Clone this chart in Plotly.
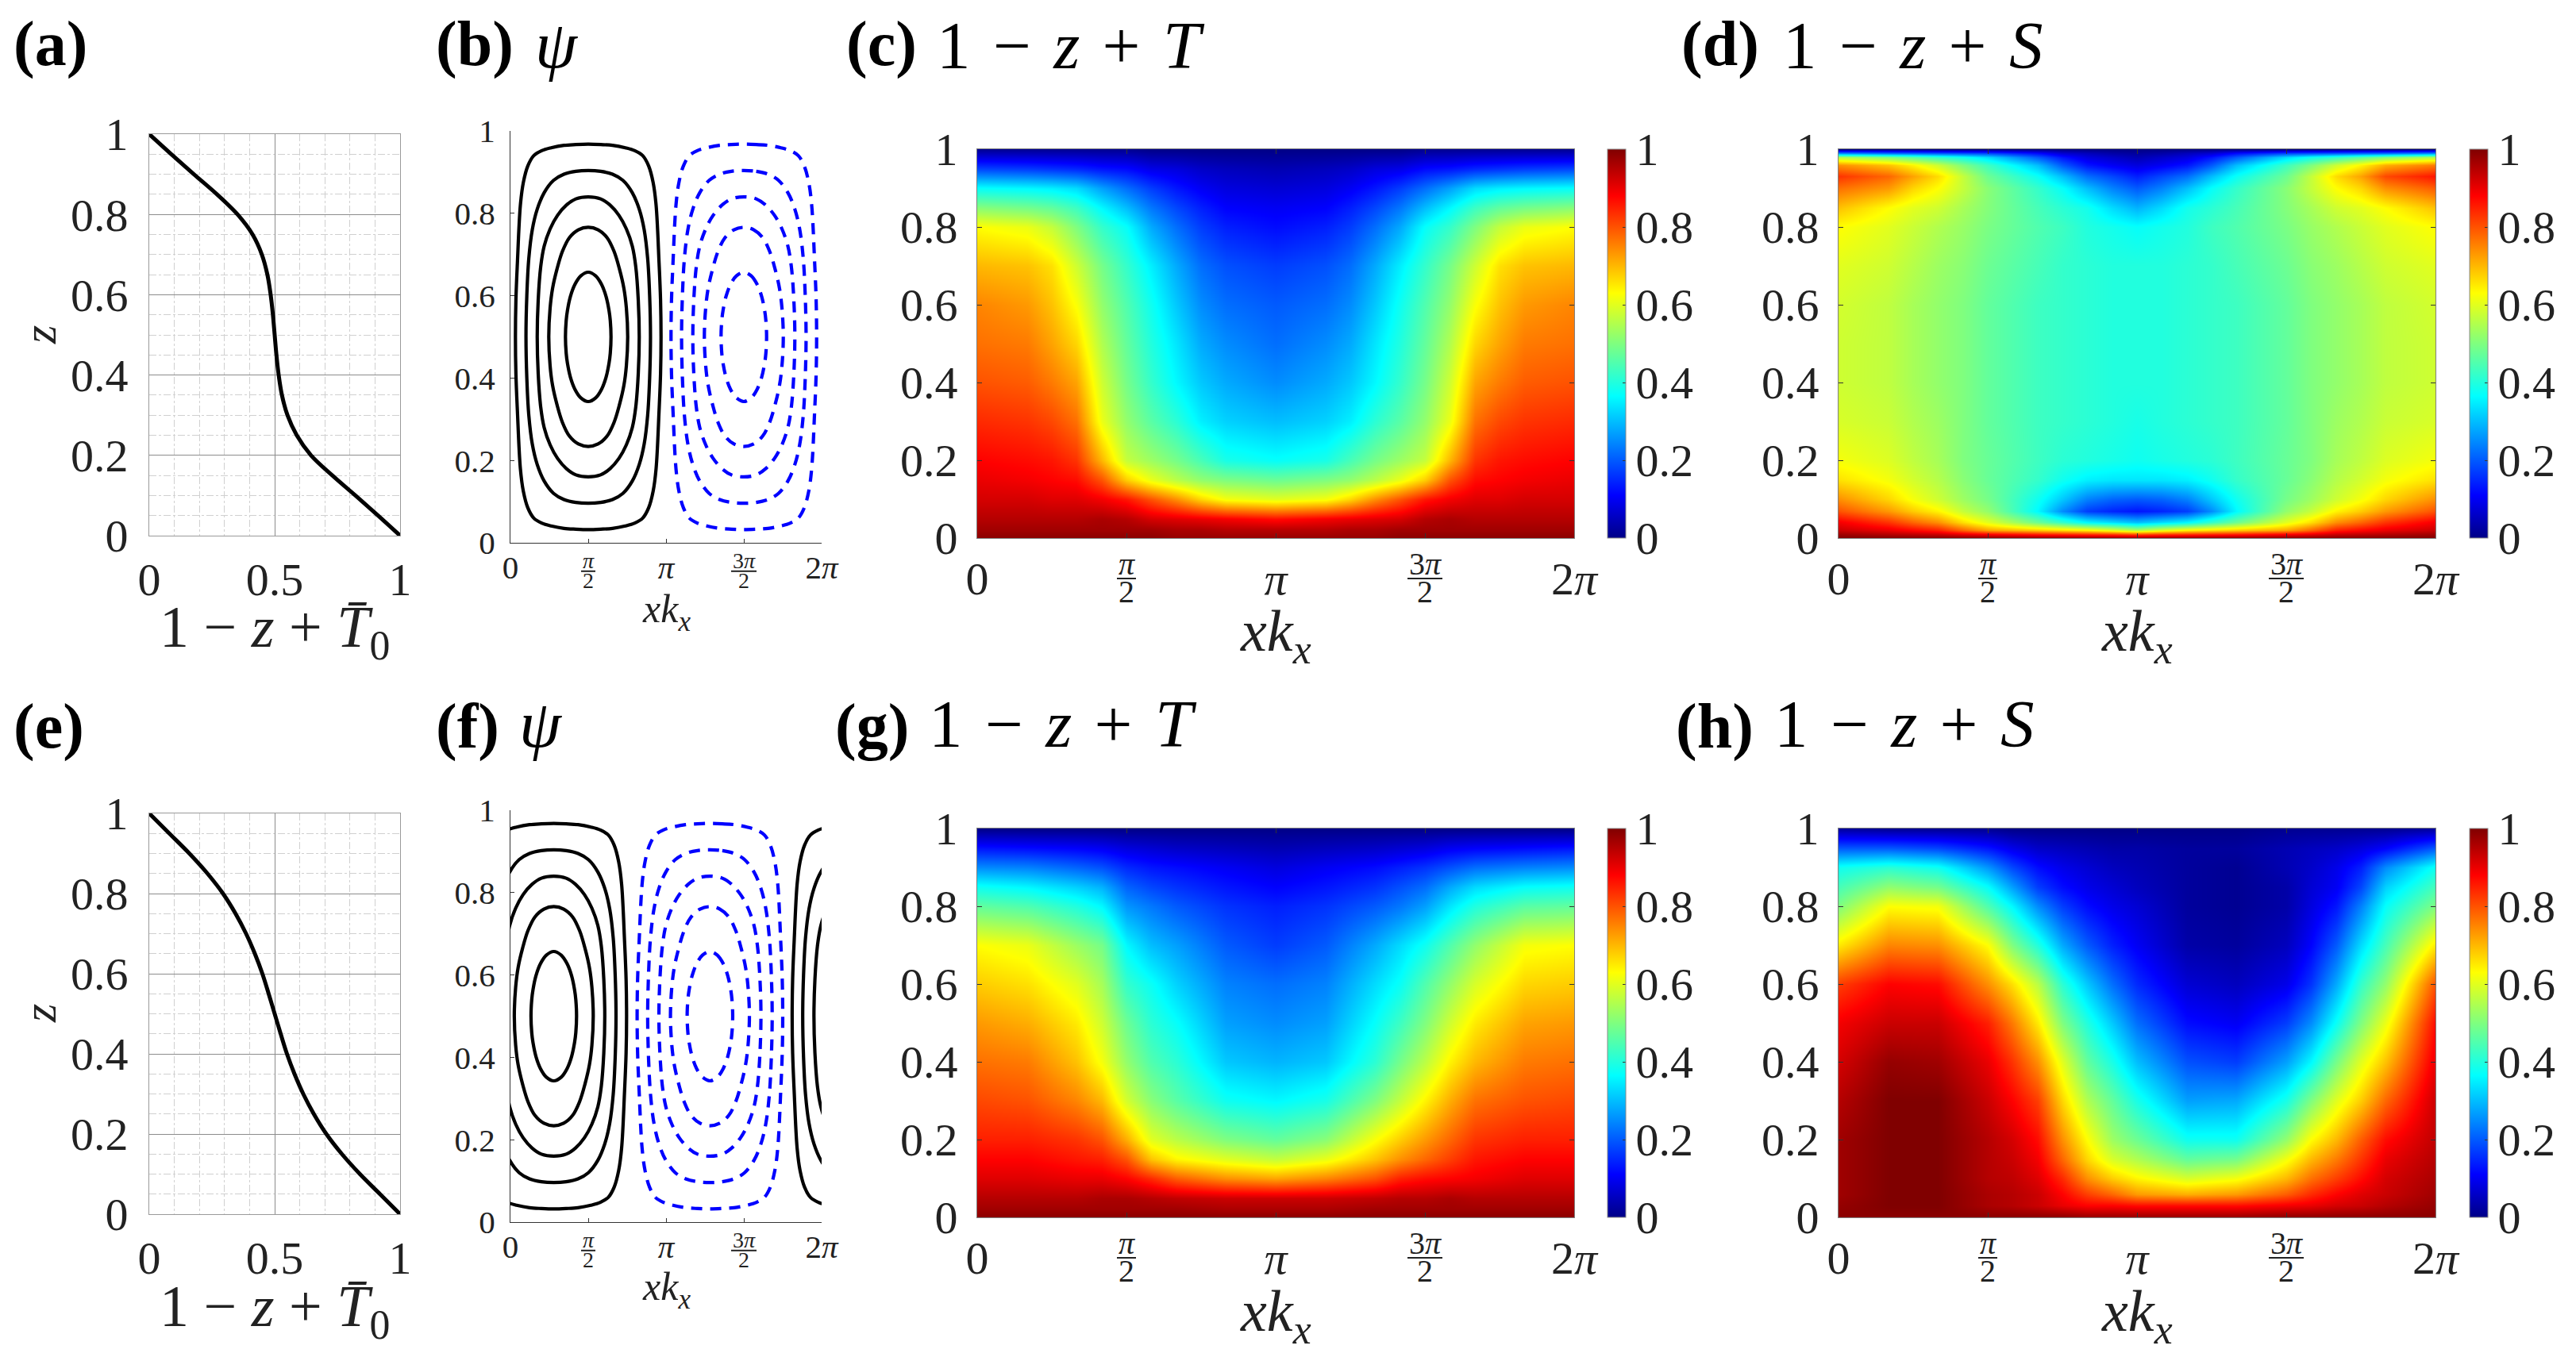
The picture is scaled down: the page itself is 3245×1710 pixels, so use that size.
import numpy as np
import plotly.graph_objects as go

W, H = 3245, 1710
SERIF = "Liberation Serif"
PI = np.pi

# mean profiles, panels (a) and (e)
z_profile = [1, 0.95, 0.9, 0.85, 0.8, 0.75, 0.7, 0.65, 0.6, 0.55, 0.5, 0.45, 0.4, 0.35, 0.3, 0.25, 0.2, 0.15, 0.1, 0.05, 0]
T0_a = [0, 0.088, 0.178, 0.27, 0.352, 0.412, 0.449, 0.471, 0.484, 0.493, 0.5, 0.507, 0.516, 0.529, 0.551, 0.588, 0.645, 0.73, 0.822, 0.912, 1]
T0_e = [0, 0.08, 0.16, 0.232, 0.294, 0.344, 0.386, 0.421, 0.451, 0.476, 0.5, 0.524, 0.549, 0.579, 0.614, 0.656, 0.706, 0.768, 0.84, 0.92, 1]

# psi contours: quarter of each closed line, offsets from the cell centre (x, z)
psi_dx = [
    [0, 0.15, 0.27, 0.36, 0.42, 0.445, 0.46],
    [0, 0.2, 0.38, 0.52, 0.63, 0.72, 0.77, 0.797],
    [0, 0.25, 0.44, 0.62, 0.77, 0.89, 0.96, 1.01, 1.03],
    [0, 0.25, 0.49, 0.7, 0.89, 1.03, 1.13, 1.2, 1.24, 1.257],
    [0, 0.25, 0.49, 0.75, 0.94, 1.1, 1.22, 1.31, 1.37, 1.43, 1.46, 1.47],
]
psi_dz = [
    [0.157, 0.148, 0.127, 0.098, 0.064, 0.04, 0],
    [0.266, 0.26, 0.241, 0.208, 0.165, 0.118, 0.07, 0],
    [0.34, 0.335, 0.32, 0.295, 0.262, 0.22, 0.17, 0.09, 0],
    [0.404, 0.402, 0.395, 0.38, 0.35, 0.31, 0.26, 0.19, 0.1, 0],
    [0.468, 0.467, 0.465, 0.459, 0.452, 0.44, 0.415, 0.375, 0.32, 0.18, 0.09, 0],
]
psi_centres_b = {"black": [PI / 2], "blue": [3 * PI / 2]}
psi_centres_f = {"black": [0.875, 0.875 + 2 * PI], "blue": [4.028]}


# heatmap grids, one list per column; columns sit at x = k * 2pi / 12
def col_x(ks):
    return [k * 2 * PI / 12 for k in ks]


k_c = [0, 1, 1.5, 2, 2.5, 3, 3.5, 4, 4.5, 5, 6, 7, 7.5, 8, 8.5, 9, 9.5, 10, 10.5, 11, 12]
k_d = [0, 1, 1.5, 2, 2.5, 3, 4, 4.5, 5, 5.5, 6, 6.5, 7, 7.5, 8, 9, 9.5, 10, 10.5, 11, 12]
k_g = [0, 1, 2, 2.5, 3, 3.5, 4, 5, 6, 7, 8, 8.5, 9, 9.5, 10, 11, 12]
k_h = [0, 1, 2, 3, 3.5, 4, 4.5, 5, 5.5, 6, 7, 8, 9, 9.5, 10, 10.5, 11, 12]

z_T = [0, 0.02, 0.05, 0.1, 0.15, 0.2, 0.3, 0.4, 0.5, 0.6, 0.7, 0.8, 0.85, 0.9, 0.95, 1]
T_c_half = [
    [0.99, 0.97, 0.95, 0.92, 0.90, 0.88, 0.84, 0.80, 0.77, 0.75, 0.70, 0.63, 0.51, 0.37, 0.18, 0.01],
    [0.99, 0.97, 0.95, 0.92, 0.89, 0.87, 0.83, 0.79, 0.76, 0.73, 0.69, 0.61, 0.49, 0.36, 0.17, 0.01],
    [0.99, 0.97, 0.95, 0.91, 0.88, 0.86, 0.81, 0.76, 0.72, 0.69, 0.66, 0.57, 0.47, 0.35, 0.16, 0.01],
    [0.99, 0.97, 0.95, 0.91, 0.87, 0.83, 0.77, 0.72, 0.67, 0.625, 0.58, 0.50, 0.43, 0.33, 0.15, 0.01],
    [0.99, 0.97, 0.96, 0.89, 0.80, 0.70, 0.61, 0.58, 0.55, 0.52, 0.49, 0.42, 0.36, 0.27, 0.13, 0.01],
    [0.99, 0.97, 0.95, 0.86, 0.68, 0.57, 0.52, 0.49, 0.47, 0.45, 0.42, 0.37, 0.30, 0.22, 0.12, 0.01],
    [0.99, 0.97, 0.92, 0.80, 0.61, 0.53, 0.46, 0.42, 0.40, 0.38, 0.35, 0.28, 0.23, 0.17, 0.09, 0.0],
    [0.98, 0.96, 0.91, 0.74, 0.56, 0.49, 0.41, 0.36, 0.34, 0.31, 0.28, 0.22, 0.18, 0.13, 0.08, 0.0],
    [0.98, 0.96, 0.90, 0.67, 0.52, 0.44, 0.35, 0.31, 0.28, 0.25, 0.22, 0.17, 0.14, 0.10, 0.06, 0.0],
    [0.98, 0.95, 0.89, 0.62, 0.50, 0.39, 0.32, 0.28, 0.25, 0.22, 0.19, 0.14, 0.11, 0.08, 0.05, 0.0],
    [0.98, 0.95, 0.87, 0.60, 0.48, 0.37, 0.30, 0.25, 0.22, 0.20, 0.17, 0.12, 0.10, 0.07, 0.04, 0.0],
]
T_c = T_c_half + T_c_half[-2::-1]

T_g = [
    [0.99, 0.97, 0.95, 0.91, 0.88, 0.85, 0.81, 0.77, 0.73, 0.68, 0.63, 0.47, 0.38, 0.25, 0.13, 0],
    [0.99, 0.97, 0.95, 0.91, 0.88, 0.85, 0.80, 0.76, 0.71, 0.66, 0.61, 0.45, 0.36, 0.24, 0.12, 0],
    [0.99, 0.97, 0.95, 0.90, 0.86, 0.83, 0.75, 0.69, 0.65, 0.60, 0.53, 0.40, 0.32, 0.21, 0.11, 0],
    [0.99, 0.97, 0.96, 0.90, 0.85, 0.80, 0.70, 0.62, 0.58, 0.54, 0.49, 0.36, 0.29, 0.19, 0.10, 0],
    [0.99, 0.97, 0.96, 0.88, 0.80, 0.71, 0.585, 0.52, 0.48, 0.42, 0.36, 0.26, 0.21, 0.15, 0.08, 0],
    [0.99, 0.97, 0.95, 0.84, 0.69, 0.60, 0.51, 0.45, 0.41, 0.375, 0.30, 0.23, 0.18, 0.13, 0.07, 0],
    [0.99, 0.97, 0.94, 0.79, 0.64, 0.56, 0.46, 0.41, 0.37, 0.32, 0.27, 0.20, 0.16, 0.12, 0.06, 0],
    [0.99, 0.96, 0.93, 0.74, 0.60, 0.50, 0.38, 0.31, 0.27, 0.24, 0.20, 0.16, 0.13, 0.10, 0.05, 0],
    [0.99, 0.96, 0.93, 0.72, 0.57, 0.47, 0.36, 0.29, 0.25, 0.22, 0.17, 0.14, 0.11, 0.08, 0.04, 0],
    [0.99, 0.96, 0.93, 0.75, 0.61, 0.51, 0.39, 0.31, 0.27, 0.24, 0.20, 0.16, 0.13, 0.10, 0.05, 0],
    [0.99, 0.97, 0.94, 0.80, 0.69, 0.625, 0.50, 0.41, 0.37, 0.33, 0.28, 0.20, 0.16, 0.12, 0.06, 0],
    [0.99, 0.97, 0.95, 0.85, 0.74, 0.68, 0.57, 0.49, 0.43, 0.375, 0.33, 0.23, 0.19, 0.14, 0.07, 0],
    [0.99, 0.97, 0.95, 0.87, 0.78, 0.73, 0.64, 0.56, 0.50, 0.45, 0.38, 0.27, 0.22, 0.16, 0.08, 0],
    [0.99, 0.97, 0.96, 0.88, 0.82, 0.78, 0.71, 0.64, 0.58, 0.52, 0.45, 0.34, 0.28, 0.19, 0.10, 0],
    [0.99, 0.97, 0.95, 0.89, 0.86, 0.83, 0.77, 0.70, 0.65, 0.59, 0.52, 0.40, 0.33, 0.22, 0.11, 0],
    [0.99, 0.97, 0.95, 0.91, 0.88, 0.85, 0.80, 0.76, 0.72, 0.67, 0.62, 0.46, 0.37, 0.24, 0.12, 0],
    [0.99, 0.97, 0.95, 0.91, 0.88, 0.85, 0.81, 0.77, 0.73, 0.68, 0.63, 0.47, 0.38, 0.25, 0.13, 0],
]

z_S_d = [0, 0.01, 0.02, 0.04, 0.07, 0.1, 0.15, 0.2, 0.3, 0.4, 0.5, 0.6, 0.7, 0.8, 0.85, 0.9, 0.93, 0.96, 0.98, 0.99, 1]
S_d_half = [
    [1.0, 0.97, 0.93, 0.89, 0.80, 0.74, 0.66, 0.62, 0.59, 0.58, 0.58, 0.585, 0.60, 0.63, 0.69, 0.77, 0.83, 0.74, 0.55, 0.25, 0],
    [1.0, 0.95, 0.90, 0.83, 0.73, 0.67, 0.62, 0.595, 0.575, 0.565, 0.565, 0.565, 0.58, 0.60, 0.63, 0.73, 0.78, 0.69, 0.50, 0.22, 0],
    [1.0, 0.94, 0.875, 0.78, 0.68, 0.62, 0.585, 0.565, 0.55, 0.54, 0.54, 0.54, 0.555, 0.575, 0.60, 0.67, 0.72, 0.64, 0.46, 0.21, 0],
    [1.0, 0.93, 0.85, 0.74, 0.64, 0.58, 0.555, 0.54, 0.53, 0.52, 0.52, 0.52, 0.53, 0.55, 0.58, 0.63, 0.665, 0.58, 0.42, 0.20, 0],
    [1.0, 0.90, 0.78, 0.66, 0.57, 0.53, 0.51, 0.50, 0.50, 0.50, 0.50, 0.50, 0.51, 0.525, 0.54, 0.57, 0.57, 0.50, 0.38, 0.19, 0],
    [1.0, 0.88, 0.72, 0.60, 0.52, 0.49, 0.475, 0.475, 0.47, 0.47, 0.47, 0.47, 0.48, 0.495, 0.505, 0.51, 0.48, 0.43, 0.33, 0.18, 0],
    [1.0, 0.85, 0.68, 0.48, 0.36, 0.38, 0.42, 0.43, 0.43, 0.43, 0.43, 0.43, 0.44, 0.45, 0.44, 0.42, 0.375, 0.30, 0.20, 0.12, 0],
    [1.0, 0.84, 0.66, 0.42, 0.25, 0.31, 0.38, 0.41, 0.42, 0.42, 0.42, 0.42, 0.42, 0.43, 0.41, 0.37, 0.30, 0.20, 0.13, 0.07, 0],
    [1.0, 0.83, 0.64, 0.36, 0.17, 0.24, 0.35, 0.40, 0.41, 0.41, 0.41, 0.41, 0.41, 0.40, 0.385, 0.30, 0.22, 0.13, 0.08, 0.05, 0],
    [1.0, 0.82, 0.60, 0.33, 0.145, 0.21, 0.34, 0.39, 0.40, 0.40, 0.40, 0.40, 0.40, 0.385, 0.33, 0.24, 0.18, 0.10, 0.06, 0.03, 0],
    [1.0, 0.80, 0.55, 0.30, 0.13, 0.20, 0.34, 0.38, 0.39, 0.40, 0.40, 0.40, 0.40, 0.37, 0.29, 0.20, 0.14, 0.08, 0.04, 0.02, 0],
]
# the right-hand lobe at the top runs a little hotter than the left one
S_d_right = [
    [1.0, 0.95, 0.90, 0.83, 0.73, 0.67, 0.62, 0.595, 0.575, 0.565, 0.565, 0.565, 0.58, 0.60, 0.63, 0.74, 0.81, 0.71, 0.50, 0.22, 0],
    [1.0, 0.97, 0.93, 0.89, 0.80, 0.74, 0.66, 0.62, 0.59, 0.58, 0.58, 0.585, 0.60, 0.63, 0.69, 0.79, 0.86, 0.76, 0.55, 0.25, 0],
]
S_d = S_d_half + S_d_half[-2:1:-1] + S_d_right

z_S_h = [0, 0.03, 0.06, 0.1, 0.15, 0.2, 0.3, 0.4, 0.5, 0.6, 0.7, 0.8, 0.85, 0.9, 0.95, 1]
S_h = [
    [0.99, 0.98, 0.97, 0.97, 0.97, 0.97, 0.95, 0.92, 0.89, 0.82, 0.65, 0.50, 0.44, 0.38, 0.20, 0.02],
    [0.99, 1.0, 1.0, 1.0, 1.0, 1.0, 1.0, 0.98, 0.93, 0.88, 0.75, 0.63, 0.52, 0.41, 0.20, 0.01],
    [0.99, 1.0, 1.0, 1.0, 1.0, 1.0, 1.0, 0.97, 0.93, 0.87, 0.74, 0.62, 0.49, 0.38, 0.18, 0.01],
    [0.99, 0.96, 0.96, 0.95, 0.95, 0.95, 0.93, 0.90, 0.85, 0.74, 0.63, 0.45, 0.37, 0.26, 0.13, 0.01],
    [0.99, 0.95, 0.95, 0.94, 0.93, 0.92, 0.88, 0.83, 0.76, 0.66, 0.50, 0.36, 0.27, 0.18, 0.09, 0],
    [0.99, 0.93, 0.93, 0.91, 0.89, 0.87, 0.82, 0.74, 0.65, 0.56, 0.40, 0.25, 0.17, 0.12, 0.06, 0],
    [0.99, 0.90, 0.88, 0.84, 0.78, 0.74, 0.67, 0.60, 0.50, 0.41, 0.28, 0.17, 0.12, 0.09, 0.05, 0],
    [0.98, 0.88, 0.82, 0.74, 0.67, 0.63, 0.55, 0.47, 0.40, 0.31, 0.20, 0.12, 0.09, 0.07, 0.04, 0],
    [0.98, 0.88, 0.78, 0.68, 0.59, 0.53, 0.47, 0.39, 0.31, 0.22, 0.14, 0.09, 0.07, 0.05, 0.03, 0],
    [0.98, 0.87, 0.73, 0.64, 0.55, 0.48, 0.39, 0.30, 0.22, 0.15, 0.10, 0.07, 0.05, 0.04, 0.03, 0],
    [0.98, 0.87, 0.71, 0.59, 0.47, 0.38, 0.27, 0.19, 0.12, 0.07, 0.03, 0.02, 0.02, 0.02, 0.02, 0],
    [0.98, 0.87, 0.73, 0.62, 0.49, 0.38, 0.28, 0.17, 0.10, 0.05, 0.02, 0.01, 0.01, 0.01, 0.02, 0],
    [0.99, 0.89, 0.79, 0.70, 0.62, 0.52, 0.39, 0.27, 0.17, 0.09, 0.05, 0.03, 0.03, 0.04, 0.04, 0.01],
    [0.99, 0.90, 0.84, 0.77, 0.70, 0.63, 0.50, 0.36, 0.25, 0.16, 0.11, 0.08, 0.07, 0.06, 0.05, 0.01],
    [0.99, 0.92, 0.88, 0.82, 0.76, 0.70, 0.60, 0.49, 0.375, 0.28, 0.20, 0.13, 0.10, 0.09, 0.06, 0.01],
    [0.99, 0.93, 0.91, 0.87, 0.83, 0.79, 0.68, 0.60, 0.50, 0.42, 0.33, 0.24, 0.18, 0.14, 0.08, 0.01],
    [0.99, 0.95, 0.93, 0.92, 0.90, 0.87, 0.78, 0.69, 0.61, 0.52, 0.44, 0.37, 0.32, 0.25, 0.11, 0.01],
    [0.99, 0.98, 0.97, 0.96, 0.95, 0.94, 0.93, 0.90, 0.87, 0.80, 0.65, 0.50, 0.44, 0.38, 0.20, 0.02],
]

# panels in picture pixels: left, right, top, bottom
BOX = {
    "a": (188, 504, 169, 675), "b": (643, 1035, 165, 684),
    "c": (1231, 1983, 188, 678), "d": (2316, 3068, 188, 678),
    "e": (188, 504, 1025, 1530), "f": (643, 1035, 1021, 1540),
    "g": (1231, 1983, 1044, 1534), "h": (2316, 3068, 1044, 1534),
}
AXES = {"a": "", "b": "2", "c": "3", "d": "4", "e": "5", "f": "6", "g": "7", "h": "8"}
CBAR = {"c": 2025, "g": 2025, "d": 3111, "h": 3111}

JET = [[0, "rgb(0,0,135)"], [0.11, "rgb(0,0,255)"], [0.365, "rgb(0,255,255)"], [0.5, "rgb(127,255,127)"],
       [0.63, "rgb(255,255,0)"], [0.88, "rgb(255,0,0)"], [1, "rgb(128,0,0)"]]

TEXT = "#222222"
PI_VALS = [0, PI, 2 * PI]
PI_TEXT = ["0", "<i>π</i>", "2<i>π</i>"]
Z_VALS = [0, 0.2, 0.4, 0.6, 0.8, 1]
Z_TEXT = ["0", "0.2", "0.4", "0.6", "0.8", "1"]

fig = go.Figure()


def px_x(x):
    return x / W


def px_y(y):
    return 1 - y / H


def ax_names(key):
    s = AXES[key]
    return "x" + s, "y" + s, "xaxis" + s, "yaxis" + s


def place_axes(key, xopts, yopts):
    l, r, t, b = BOX[key]
    xn, yn, xa, ya = ax_names(key)
    xopts.update(domain=[px_x(l), px_x(r)], anchor=yn)
    yopts.update(domain=[px_y(b), px_y(t)], anchor=xn)
    fig.update_layout({xa: xopts, ya: yopts})


def note(text, x, y, size, anchor="left", color="black", **kw):
    fig.add_annotation(text=text, x=px_x(x), y=px_y(y), xref="paper", yref="paper", showarrow=False,
                       xanchor=anchor, yanchor="middle", font=dict(family=SERIF, size=size, color=color), **kw)


def fraction(key, size, bar1, bar3, drop):
    # pi/2 and 3pi/2 tick labels, typeset as stacked fractions
    xn, yn, _, _ = ax_names(key)
    _, _, _, b = BOX[key]
    for val, top, half in [(PI / 2, "<i>π</i>", bar1), (3 * PI / 2, "3<i>π</i>", bar3)]:
        fig.add_annotation(text=top, x=val, xref=xn, y=px_y(b + drop - size * 0.36), yref="paper", showarrow=False,
                           yanchor="middle", font=dict(family=SERIF, size=size, color=TEXT))
        fig.add_annotation(text="2", x=val, xref=xn, y=px_y(b + drop + size * 0.52), yref="paper", showarrow=False,
                           yanchor="middle", font=dict(family=SERIF, size=size, color=TEXT))
        fig.add_shape(type="line", xref=xn, yref="paper", xsizemode="pixel", xanchor=val, x0=-half, x1=half,
                      y0=px_y(b + drop + 0.1 * size), y1=px_y(b + drop + 0.1 * size), line=dict(color=TEXT, width=2))


def profile_panel(key, t0):
    xn, yn, _, _ = ax_names(key)
    fig.add_trace(go.Scatter(x=t0, y=z_profile, mode="lines", line=dict(color="black", width=5, shape="spline"),
                             xaxis=xn, yaxis=yn, showlegend=False))
    common = dict(showline=True, mirror=True, linecolor="#9a9a9a", linewidth=1, showgrid=True, gridcolor="#8c8c8c",
                  gridwidth=1, zeroline=False, ticks="", tickfont=dict(family=SERIF, size=58, color=TEXT))
    place_axes(key,
               dict(range=[0, 1], tickvals=[0, 0.5, 1], ticktext=["0", "0.5", "1"], ticklabelstandoff=4,
                    minor=dict(dtick=0.1, showgrid=True, gridcolor="#d0d0d0", griddash="dashdot", gridwidth=1, ticks=""),
                    **common),
               dict(range=[0, 1], tickvals=Z_VALS, ticktext=Z_TEXT, ticklabelstandoff=14,
                    minor=dict(dtick=0.05, showgrid=True, gridcolor="#d0d0d0", griddash="dashdot", gridwidth=1, ticks=""),
                    **common))


def psi_panel(key, centres):
    xn, yn, _, _ = ax_names(key)
    for color, cells in centres.items():
        dash = "solid" if color == "black" else "14px,10px"
        rgb = "black" if color == "black" else "rgb(0,0,255)"
        for cx in cells:
            for dx, dz in zip(psi_dx, psi_dz):
                # walk the quarter round the four sides of the closed line
                xs = [cx + d for d in dx] + [cx + d for d in dx[-2::-1]] + [cx - d for d in dx[1:]] + [cx - d for d in dx[-2::-1]]
                zs = [0.5 + d for d in dz] + [0.5 - d for d in dz[-2::-1]] + [0.5 - d for d in dz[1:]] + [0.5 + d for d in dz[-2::-1]]
                fig.add_trace(go.Scatter(x=xs, y=zs, mode="lines", line=dict(color=rgb, width=4.2, dash=dash, shape="spline"),
                                         xaxis=xn, yaxis=yn, showlegend=False))
    common = dict(showline=True, linecolor="#333333", linewidth=1, showgrid=False, zeroline=False, ticks="inside",
                  ticklen=5, tickcolor="#333333", tickfont=dict(family=SERIF, size=41, color=TEXT))
    place_axes(key,
               dict(range=[0, 2 * PI], tickvals=PI_VALS, ticktext=PI_TEXT, ticklabelstandoff=-5,
                    minor=dict(tickvals=[PI / 2, 3 * PI / 2], ticks="inside", ticklen=5, tickcolor="#333333"),
                    **common),
               dict(range=[0, 1], tickvals=Z_VALS, ticktext=Z_TEXT, ticklabelstandoff=10, **common))
    fraction(key, 28, 9, 16, 33)


def heat_panel(key, cols, z_rows, ks):
    xn, yn, _, _ = ax_names(key)
    l, r, t, b = BOX[key]
    fig.add_trace(go.Heatmap(
        x=col_x(ks), y=z_rows, z=cols, transpose=True, zsmooth="best", zmin=0, zmax=1, colorscale=JET, xaxis=xn, yaxis=yn,
        colorbar=dict(x=px_x(CBAR[key]), xanchor="left", xpad=0, ypad=0, y=px_y(b), yanchor="bottom", len=(b - t) / H,
                      lenmode="fraction", thickness=23, thicknessmode="pixels", outlinewidth=1, outlinecolor="#888888",
                      tickvals=Z_VALS, ticktext=Z_TEXT, ticks="inside", ticklen=4, tickcolor="#333333",
                      tickfont=dict(family=SERIF, size=58, color=TEXT))))
    common = dict(showline=True, mirror="ticks", linecolor="#808080", linewidth=1, showgrid=False, zeroline=False,
                  ticks="inside", ticklen=6, tickcolor="#333333", tickfont=dict(family=SERIF, size=58, color=TEXT))
    place_axes(key,
               dict(range=[0, 2 * PI], tickvals=PI_VALS, ticktext=PI_TEXT, ticklabelstandoff=0,
                    minor=dict(tickvals=[PI / 2, 3 * PI / 2], ticks="inside", ticklen=6, tickcolor="#333333"),
                    **common),
               dict(range=[0, 1], tickvals=Z_VALS, ticktext=Z_TEXT, ticklabelstandoff=12, **common))
    fraction(key, 40, 12, 22, 47)


profile_panel("a", T0_a)
profile_panel("e", T0_e)
psi_panel("b", psi_centres_b)
psi_panel("f", psi_centres_f)
heat_panel("c", T_c, z_T, k_c)
heat_panel("d", S_d, z_S_d, k_d)
heat_panel("g", T_g, z_T, k_g)
heat_panel("h", S_h, z_S_h, k_h)

SP = "\u2004"
T_FORM = f"1{SP}−{SP}<i>z</i>{SP}+{SP}<i>T</i>"
S_FORM = f"1{SP}−{SP}<i>z</i>{SP}+{SP}<i>S</i>"
for label, x, y in [("(a)", 15, 56), ("(b)", 547, 56), ("(c)", 1064, 56), ("(d)", 2116, 56),
                    ("(e)", 15, 915), ("(f)", 547, 915), ("(g)", 1050, 915), ("(h)", 2109, 915)]:
    note(f"<b>{label}</b>", x, y, 80)
for form, x, y in [("<i>ψ</i>", 672, 56), ("<i>ψ</i>", 652, 912),
                   (T_FORM, 1178, 57), (S_FORM, 2244, 57), (T_FORM, 1168, 912), (S_FORM, 2233, 912)]:
    note(form, x, y, 85)

# axis titles
T0_LABEL = "1 − <i>z</i> + <i>T̄</i><sub>0</sub>"
XK_LABEL = "<i>xk<sub>x</sub></i>"
for text, x, y, size in [(T0_LABEL, 346, 795, 74), (T0_LABEL, 346, 1651, 74),
                         (XK_LABEL, 839, 771, 50), (XK_LABEL, 839, 1625, 50),
                         (XK_LABEL, 1607, 800, 74), (XK_LABEL, 2692, 800, 74),
                         (XK_LABEL, 1607, 1657, 74), (XK_LABEL, 2692, 1657, 74)]:
    note(text, x, y, size, anchor="center", color=TEXT)
note("<i>z</i>", 50, 422, 60, anchor="center", color=TEXT, textangle=-90)
note("<i>z</i>", 50, 1277, 60, anchor="center", color=TEXT, textangle=-90)

fig.update_layout(width=W, height=H, autosize=False, margin=dict(l=0, r=0, t=0, b=0, autoexpand=False),
                  paper_bgcolor="white", plot_bgcolor="white", showlegend=False)

fig.write_html("out.html", post_script="document.body.style.margin='0';", config=dict(displayModeBar=False))
